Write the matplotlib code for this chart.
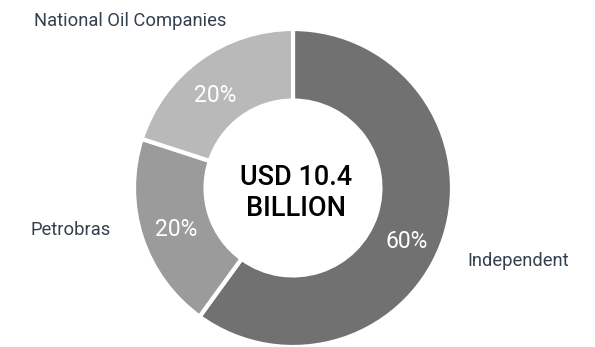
import matplotlib.pyplot as plt

# investimento por tipo de operador
categories = ["Independent", "Petrobras", "National Oil Companies"]
shares = [60, 20, 20]
colors = ["#717171", "#9b9b9b", "#b9b9b9"]
total_label = "USD 10.4\nBILLION"

W, H = 595, 347
fig = plt.figure(figsize=(W / 100, H / 100), dpi=100)
ax = fig.add_axes([0, 0, 1, 1])

cx, cy, R = 293, H - 188, 159
ax.pie(shares, colors=colors, startangle=90, counterclock=False,
       center=(cx, cy), radius=R, frame=True,
       wedgeprops=dict(width=R * 0.45, edgecolor="white", linewidth=3))
ax.set_xlim(0, W)
ax.set_ylim(0, H)
ax.set_aspect("equal")
ax.axis("off")

# posições dos rótulos (px)
pct_pos = [(407, 242), (176, 230), (215, 95)]
name_pos = [(467, 261), (30, 230), (34, 21)]

for (x, y), v in zip(pct_pos, shares):
    ax.text(x, H - y, f"{v}%", color="white", fontsize=16.5, family="Roboto",
            ha="center", va="center")

for (x, y), name in zip(name_pos, categories):
    ax.text(x, H - y, name, color="#34404e", fontsize=13.2, family="Roboto",
            ha="left", va="center")

ax.text(cx + 3, cy - 5, total_label, color="black", fontsize=19.5, family="Roboto",
        weight="medium", ha="center", va="center", linespacing=1.2)

fig.savefig("out.png", dpi=100)
